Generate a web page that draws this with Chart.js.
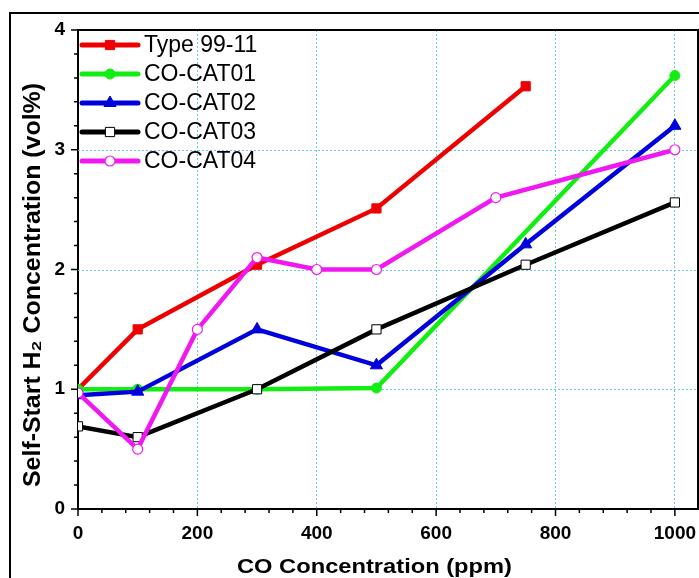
<!DOCTYPE html>
<html>
<head>
<meta charset="utf-8">
<script src="https://cdn.jsdelivr.net/npm/chart.js@4.4.0/dist/chart.umd.min.js"></script>
<style>
  html, body { margin: 0; padding: 0; background: #fff; overflow: hidden; }
  #wrap { width: 699px; height: 578px; position: relative; }
</style>
</head>
<body>
<div id="wrap"><canvas id="myChart"></canvas></div>
<script>
// values
const seriesNames = ['Type 99-11', 'CO-CAT01', 'CO-CAT02', 'CO-CAT03', 'CO-CAT04'];

const type9911X = [0, 100, 300, 500, 750];
const type9911Y = [1.0, 1.5, 2.04, 2.51, 3.53];

const cat01X = [0, 100, 300, 500, 1000];
const cat01Y = [1.0, 1.0, 1.0, 1.01, 3.62];

const cat02X = [0, 100, 300, 500, 750, 1000];
const cat02Y = [0.95, 0.98, 1.5, 1.2, 2.21, 3.2];

const cat03X = [0, 100, 300, 500, 750, 1000];
const cat03Y = [0.69, 0.6, 1.0, 1.5, 2.04, 2.56];

const cat04X = [0, 100, 200, 300, 400, 500, 700, 1000];
const cat04Y = [0.97, 0.5, 1.5, 2.1, 2.0, 2.0, 2.6, 3.0];

const xTickLabels = [0, 200, 400, 600, 800, 1000];
const yTickLabels = [0, 1, 2, 3, 4];

const xTitle = 'CO Concentration (ppm)';
const yTitle = 'Self-Start H\u2082 Concentration (vol%)';

function pts(xs, ys) {
  return xs.map((x, i) => ({ x: x, y: ys[i] }));
}

const styles = [
  { color: '#ee0000', pointStyle: 'rect', radius: 6.5, fill: '#ee0000', bw: 1 },
  { color: '#11ee11', pointStyle: 'circle', radius: 5, fill: '#11ee11', bw: 1 },
  { color: '#0000dd', pointStyle: 'triangle', radius: 7, fill: '#0000dd', bw: 1 },
  { color: '#000000', pointStyle: 'rect', radius: 6.5, fill: '#ffffff', bw: 1 },
  { color: '#f018f0', pointStyle: 'circle', radius: 5, fill: '#ffffff', bw: 1.2 }
];
const allData = [
  pts(type9911X, type9911Y),
  pts(cat01X, cat01Y),
  pts(cat02X, cat02Y),
  pts(cat03X, cat03Y),
  pts(cat04X, cat04Y)
];

const datasets = seriesNames.map((name, i) => ({
  label: name,
  data: allData[i],
  borderColor: styles[i].color,
  backgroundColor: styles[i].fill,
  borderWidth: 4.5,
  pointStyle: styles[i].pointStyle,
  pointRadius: styles[i].radius,
  pointHoverRadius: styles[i].radius,
  pointBackgroundColor: styles[i].fill,
  pointBorderColor: styles[i].color,
  pointBorderWidth: styles[i].bw,
  tension: 0,
  order: seriesNames.length - i
}));

const gridCol = '#66ccd9';
const tickFont = 'bold 19px "Liberation Sans", Arial, sans-serif';
const frameRight = 698;
const isMult = (v, step) => Math.abs(v / step - Math.round(v / step)) < 1e-6;

// draws text stretched to a given length
function fitText(c, text, font, length) {
  c.font = font;
  const w = c.measureText(text).width;
  c.scale(length / w, 1);
  c.fillText(text, 0, 0);
}

// frame, gridlines across the full box, outward ticks, x labels, axis titles and the legend
const decor = {
  id: 'decor',
  beforeDraw(chart) {
    const c = chart.ctx;
    c.save();
    c.strokeStyle = '#000';
    c.lineWidth = 2;
    c.beginPath();
    c.moveTo(10, 700);
    c.lineTo(10, 13);
    c.lineTo(720, 13);
    c.stroke();
    c.restore();
  },
  beforeDatasetsDraw(chart) {
    const c = chart.ctx;
    const a = chart.chartArea;
    const ys = chart.scales.y;
    c.save();
    c.strokeStyle = gridCol;
    c.lineWidth = 1;
    c.setLineDash([2, 2]);
    c.beginPath();
    yTickLabels.forEach(v => {
      if (v <= 0 || v >= 4) return;
      const py = Math.round(ys.getPixelForValue(v)) + 0.5;
      c.moveTo(a.left, py);
      c.lineTo(frameRight, py);
    });
    c.stroke();
    c.restore();
  },
  afterDraw(chart) {
    const c = chart.ctx;
    const a = chart.chartArea;
    const xs = chart.scales.x, ys = chart.scales.y;
    c.save();
    c.strokeStyle = '#000';
    c.lineWidth = 2;
    // box round the plot
    c.beginPath();
    c.moveTo(a.left, a.top);
    c.lineTo(frameRight, a.top);
    c.lineTo(frameRight, a.bottom);
    c.lineTo(a.left, a.bottom);
    c.stroke();
    c.lineWidth = 1.5;
    c.beginPath();
    xs.ticks.forEach(t => {
      if (!isMult(t.value, 40)) return;
      const px = xs.getPixelForValue(t.value);
      const len = isMult(t.value, 200) ? 7 : 4;
      c.moveTo(px, a.bottom);
      c.lineTo(px, a.bottom + len);
    });
    ys.ticks.forEach(t => {
      const py = ys.getPixelForValue(t.value);
      const len = isMult(t.value, 1) ? 7 : 4;
      c.moveTo(a.left, py);
      c.lineTo(a.left - len, py);
    });
    c.stroke();

    // x tick labels
    c.fillStyle = '#000';
    c.font = tickFont;
    c.textAlign = 'center';
    c.textBaseline = 'middle';
    xTickLabels.forEach(v => {
      c.fillText(String(v), xs.getPixelForValue(v), 534);
    });

    // axis titles
    c.textAlign = 'left';
    c.textBaseline = 'alphabetic';
    c.save();
    c.translate(237, 573);
    fitText(c, xTitle, 'bold 20px "Liberation Sans", Arial, sans-serif', 275);
    c.restore();
    c.save();
    c.translate(40, 487);
    c.rotate(-Math.PI / 2);
    fitText(c, yTitle, 'bold 24px "Liberation Sans", Arial, sans-serif', 404);
    c.restore();

    // legend
    const x0 = 82, x1 = 138, tx = 144;
    seriesNames.forEach((name, i) => {
      const y = 45 + 29 * i;
      const s = styles[i];
      c.strokeStyle = s.color;
      c.lineWidth = 5;
      c.lineCap = 'round';
      c.beginPath();
      c.moveTo(x0, y);
      c.lineTo(x1, y);
      c.stroke();
      c.lineCap = 'butt';
      c.fillStyle = s.fill;
      c.strokeStyle = s.color;
      c.lineWidth = s.bw;
      Chart.helpers.drawPoint(c, { pointStyle: s.pointStyle, radius: s.radius, rotation: 0, borderWidth: s.bw }, (x0 + x1) / 2, y);
      c.fillStyle = '#000';
      c.font = '23px "Liberation Sans", Arial, sans-serif';
      c.textBaseline = 'middle';
      c.textAlign = 'left';
      c.fillText(name, tx, y + 1);
    });
    c.restore();
  }
};

const ctx = document.getElementById('myChart');
const myChart = new Chart(ctx, {
  type: 'line',
  data: { datasets: datasets },
  options: {
    responsive: true,
    maintainAspectRatio: false,
    animation: false,
    layout: { padding: { top: 30, right: 1, left: 0, bottom: 0 } },
    scales: {
      x: {
        type: 'linear',
        min: 0,
        max: 1027,
        afterFit(scale) { scale.height = 69; },
        ticks: {
          display: false,
          stepSize: 40,
          includeBounds: false,
          autoSkip: false,
          maxRotation: 0
        },
        grid: {
          drawTicks: false,
          color: c => (c.tick && isMult(c.tick.value, 200) && c.tick.value > 1) ? gridCol : 'rgba(0,0,0,0)',
          lineWidth: 1
        },
        border: { display: true, color: '#000', width: 2, dash: [2, 2] },
        title: { display: false }
      },
      y: {
        min: 0,
        max: 4,
        afterFit(scale) { scale.width = 78; scale.paddingTop = 0; scale.paddingBottom = 0; },
        ticks: {
          stepSize: 0.2,
          autoSkip: false,
          padding: 13,
          color: '#000',
          font: { family: '"Liberation Sans", Arial', size: 19, weight: 'bold' },
          callback: v => {
            const r = Math.round(v);
            return (isMult(v, 1) && yTickLabels.includes(r)) ? String(r) : '';
          }
        },
        grid: {
          drawTicks: false,
          color: 'rgba(0,0,0,0)',
          lineWidth: 1
        },
        border: { display: true, color: '#000', width: 2 },
        title: { display: false }
      }
    },
    plugins: {
      legend: { display: false },
      tooltip: { enabled: false }
    }
  },
  plugins: [decor]
});
</script>
</body>
</html>
